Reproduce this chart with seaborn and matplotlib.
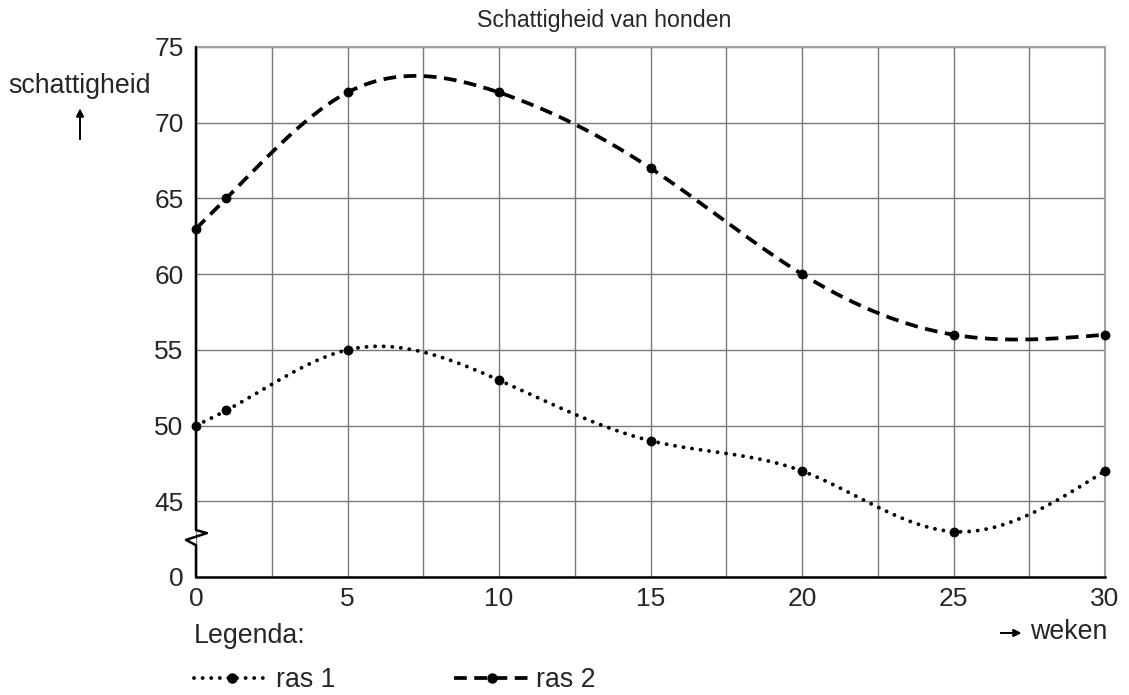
import numpy as np
import pandas as pd
import matplotlib.pyplot as plt
import seaborn as sns
from matplotlib.lines import Line2D

# data
weken = [0, 1, 5, 10, 15, 20, 25, 30]
ras1 = [50, 51, 55, 53, 49, 47, 43, 47]
ras2 = [63, 65, 72, 72, 67, 60, 56, 56]
# the y axis is broken: the bottom "0" sits where 40 would be
Y_TICKS = [40, 45, 50, 55, 60, 65, 70, 75]
Y_LABELS = ["0", "45", "50", "55", "60", "65", "70", "75"]
X_TICKS = [0, 5, 10, 15, 20, 25, 30]

W, H = 1129, 695
TICKSIZE = 19
TITLESIZE = 16.7
LABELSIZE = 19.3


def natural_spline(x, y, n=500):
    # smooth drawing of the line through the measured points
    x = np.asarray(x, float)
    y = np.asarray(y, float)
    h = np.diff(x)
    k = len(x)
    A = np.zeros((k, k))
    b = np.zeros(k)
    A[0, 0] = A[-1, -1] = 1
    for i in range(1, k - 1):
        A[i, i - 1] = h[i - 1]
        A[i, i] = 2 * (h[i - 1] + h[i])
        A[i, i + 1] = h[i]
        b[i] = 3 * ((y[i + 1] - y[i]) / h[i] - (y[i] - y[i - 1]) / h[i - 1])
    c = np.linalg.solve(A, b)
    xs = np.linspace(x[0], x[-1], n)
    idx = np.clip(np.searchsorted(x, xs) - 1, 0, k - 2)
    dx = xs - x[idx]
    bb = (y[1:] - y[:-1]) / h - h * (2 * c[:-1] + c[1:]) / 3
    d = (c[1:] - c[:-1]) / (3 * h)
    ys = y[idx] + bb[idx] * dx + c[idx] * dx ** 2 + d[idx] * dx ** 3
    return xs, ys


sns.set_style("white")
plt.rcParams["font.family"] = ["Liberation Sans", "DejaVu Sans"]

points = pd.DataFrame({"weken": weken * 2, "schattigheid": ras1 + ras2,
                       "ras": ["ras 1"] * len(weken) + ["ras 2"] * len(weken)})

fig = plt.figure(figsize=(W / 100, H / 100), dpi=100)
ax = fig.add_axes([196 / W, 1 - 577 / H, (1105 - 196) / W, (577 - 47) / H])

dot_style = dict(color="black", lw=2.8, dashes=(0.01, 2.2), dash_capstyle="round")
dash_style = dict(color="black", lw=2.7, dashes=(3.4, 2.0), dash_capstyle="butt")

xs1, ys1 = natural_spline(weken, ras1)
xs2, ys2 = natural_spline(weken, ras2)
sns.lineplot(x=xs1, y=ys1, ax=ax, **dot_style)
sns.lineplot(x=xs2, y=ys2, ax=ax, **dash_style)
sns.scatterplot(data=points, x="weken", y="schattigheid", ax=ax, color="black",
                s=50, edgecolor="black", linewidth=0, zorder=5, clip_on=False)

ax.set_xlim(0, 30)
ax.set_ylim(40, 75)
ax.set_xticks(X_TICKS)
ax.set_xticks(np.arange(2.5, 30, 5), minor=True)
ax.set_yticks(Y_TICKS, labels=Y_LABELS)
ax.set_xlabel("")
ax.set_ylabel("")
ax.tick_params(axis="both", which="major", direction="inout", length=10, width=1.2,
               color="black", labelsize=TICKSIZE, pad=2)
ax.tick_params(axis="both", which="minor", length=0)
ax.tick_params(axis="y", pad=4)

ax.grid(True, which="both", axis="x", color="#7a7a7a", lw=1)
ax.grid(True, which="major", axis="y", color="#7a7a7a", lw=1)
ax.set_axisbelow(True)

for side in ["top", "right"]:
    ax.spines[side].set_color("#a0a0a0")
    ax.spines[side].set_linewidth(1.5)
ax.spines["bottom"].set_color("black")
ax.spines["bottom"].set_linewidth(1.8)
ax.spines["left"].set_visible(False)

# left axis with the break symbol
ax.plot([0, 0, 0.36, -0.33, 0, 0], [75, 43.1, 42.9, 42.45, 42.1, 40],
        color="black", lw=1.8, clip_on=False, zorder=6)

fig.text(604 / W, 1 - 20 / H, "Schattigheid van honden", ha="center", va="center",
         fontsize=TITLESIZE)
fig.text(8 / W, 1 - 86 / H, "schattigheid", ha="left", va="center", fontsize=LABELSIZE)
fig.add_artist(plt.annotate("", xy=(80 / W, 1 - 106 / H), xytext=(80 / W, 1 - 142 / H),
                            xycoords="figure fraction",
                            arrowprops=dict(arrowstyle="-|>", color="black", lw=1.2,
                                            mutation_scale=11)))
fig.text(1030 / W, 1 - 632 / H, "weken", ha="left", va="center", fontsize=LABELSIZE)
fig.add_artist(plt.annotate("", xy=(1024 / W, 1 - 633 / H), xytext=(998 / W, 1 - 633 / H),
                            xycoords="figure fraction",
                            arrowprops=dict(arrowstyle="-|>", color="black", lw=1.2,
                                            mutation_scale=11)))
fig.text(194 / W, 1 - 636 / H, "Legenda:", ha="left", va="center", fontsize=LABELSIZE)

handles = [Line2D([], [], marker="o", markersize=6.5, **dot_style),
           Line2D([], [], marker="o", markersize=6.5, **dash_style)]
fig.legend(handles, ["ras 1", "ras 2"], loc="center left",
           bbox_to_anchor=(194 / W, 1 - 680 / H), ncol=2, frameon=False,
           fontsize=LABELSIZE, handlelength=2.85, handletextpad=0.22,
           columnspacing=4.4, borderpad=0, borderaxespad=0, numpoints=1)

fig.savefig("out.png", dpi=100)
